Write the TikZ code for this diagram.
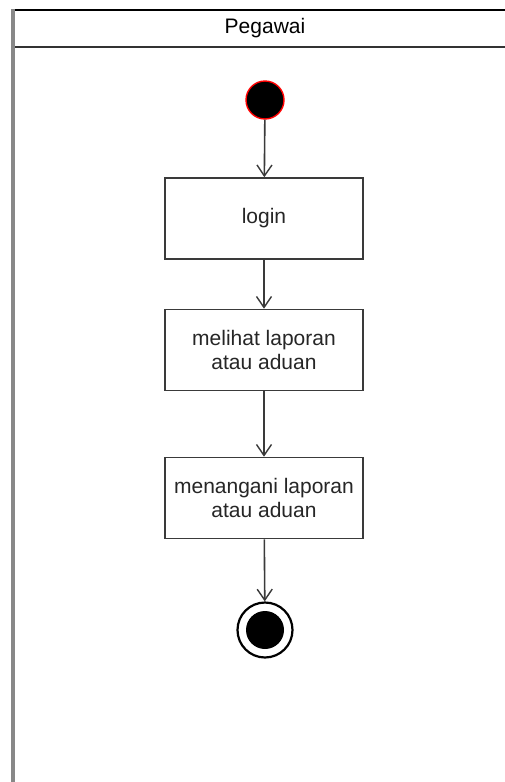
\documentclass[tikz,border=0pt]{standalone}
\usepackage{fontspec}
\setmainfont{Liberation Sans}
\usetikzlibrary{arrows.meta}
\definecolor{edgegray}{HTML}{3A3A3A}
\definecolor{framegray}{HTML}{888888}
\tikzset{
  actbox/.style={draw=edgegray, line width=1.6pt, fill=white, minimum width=198pt, minimum height=81pt, inner sep=0pt, align=center, font=\fontsize{21}{24}\selectfont, text=black!85},
  flow/.style={draw=edgegray, line width=1.6pt, -{Straight Barb[length=11pt,width=15pt,line width=1.4pt]}},
}
\begin{document}
\begin{tikzpicture}[x=1pt,y=-1pt]
\useasboundingbox (0,0) rectangle (504,782);
\fill[white] (0,0) rectangle (504,782);
% pool frame
\draw[black, line width=2pt] (13,10) -- (520,10);
\draw[black!80, line width=2pt] (13,47) -- (520,47);
\draw[framegray, line width=3.5pt] (13,9) -- (13,790);
\node (title) at (265,28.5) {\fontsize{21}{24}\selectfont Pegawai};
% nodes
\node[circle, fill=black, draw=red, line width=1.4pt, minimum size=38pt, inner sep=0pt] (start) at (265,100) {};
\node[actbox] (login) at (264,218.5) {login};
\node[actbox] (lihat) at (264,350) {melihat laporan\\atau aduan};
\node[actbox] (tangani) at (264,498) {menangani laporan\\atau aduan};
\node[circle, draw=black, line width=2.2pt, minimum size=55pt, inner sep=0pt] (end) at (265,630) {};
\node[circle, fill=black, minimum size=38pt, inner sep=0pt] (endin) at (end.center) {};
% connectors
\draw[flow] (start) -- (login);
\draw[flow] (login) -- (lihat);
\draw[flow] (lihat) -- (tangani);
\draw[flow] (tangani) -- (end);
\end{tikzpicture}
\end{document}
